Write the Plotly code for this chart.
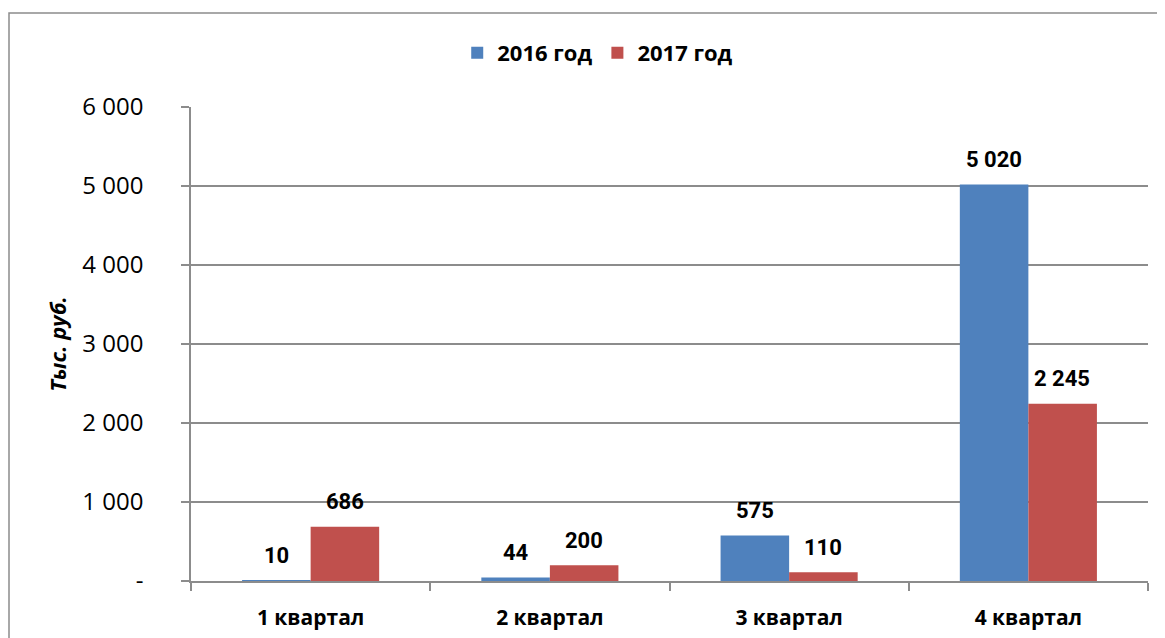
import plotly.graph_objects as go

categories = ["1 квартал", "2 квартал", "3 квартал", "4 квартал"]
series_names = ["2016 год", "2017 год"]
values_2016 = [10, 44, 575, 5020]
values_2017 = [686, 200, 110, 2245]
tick_values = [0, 1000, 2000, 3000, 4000, 5000, 6000]
tick_labels = ["-", "1 000", "2 000", "3 000", "4 000", "5 000", "6 000"]

BLUE = "#4F81BD"
RED = "#C0504D"
GRID = "#8C8C8C"
LABEL_FONT = "Roboto, 'Liberation Sans', sans-serif"
TEXT_FONT = "'Open Sans', 'Liberation Sans', sans-serif"


def fmt(v):
    return f"{v:,}".replace(",", " ")


fig = go.Figure()
fig.add_trace(go.Bar(name=series_names[0], x=categories, y=values_2016,
                     marker=dict(color=BLUE, line=dict(width=0))))
fig.add_trace(go.Bar(name=series_names[1], x=categories, y=values_2017,
                     marker=dict(color=RED, line=dict(width=0))))

# data labels above each bar
bar_half = 34
for vals, shift in ((values_2016, -bar_half), (values_2017, bar_half)):
    for c, v in zip(categories, vals):
        fig.add_annotation(x=c, y=v, text=fmt(v), showarrow=False,
                           xshift=shift, yshift=25, yanchor="middle",
                           font=dict(family=LABEL_FONT, size=22, color="black", weight="bold"))

# page has an 8px body margin, so figure is sized to the remaining viewport
W, H = 1157, 630
L, R, T, B = 183, 17, 99, 57
pw, ph = W - L - R, H - T - B
# outer frame (left and top visible)
fig.add_shape(type="rect", xref="paper", yref="paper",
              x0=(1 - L) / pw, x1=1.2, y0=-0.3, y1=(H - B - 5) / ph,
              line=dict(color="#8C8C8C", width=1.5), fillcolor="rgba(0,0,0,0)", layer="below")

fig.update_layout(
    width=W, height=H,
    margin=dict(l=L, r=R, t=T, b=B, autoexpand=False),
    paper_bgcolor="white", plot_bgcolor="white",
    barmode="group", bargap=0.427, bargroupgap=0,
    font=dict(family=TEXT_FONT, color="black"),
    legend=dict(orientation="h", x=0.425, xanchor="center", y=1.114, yanchor="middle",
                font=dict(family=TEXT_FONT, size=22, color="black", weight="bold"),
                itemwidth=30, tracegroupgap=0),
    showlegend=True,
)
fig.update_xaxes(
    automargin=False,
    showgrid=False, showline=True, linecolor=GRID, linewidth=1.5,
    ticks="outside", tickson="boundaries", ticklen=8, tickcolor=GRID, tickwidth=1.5,
    tickfont=dict(family=TEXT_FONT, size=21, color="black", weight="bold"),
    ticklabelstandoff=17,
    fixedrange=True,
)
fig.update_yaxes(
    automargin=False,
    range=[0, 6000], tickvals=tick_values, ticktext=tick_labels,
    showgrid=True, gridcolor=GRID, gridwidth=1.5,
    showline=True, linecolor=GRID, linewidth=1.5,
    ticks="outside", ticklen=8, tickcolor=GRID, tickwidth=1.5,
    tickfont=dict(family=TEXT_FONT, size=24, color="black"),
    ticklabelstandoff=33,
    zeroline=False,
    title=dict(text="Тыс. руб.", standoff=10,
               font=dict(family=TEXT_FONT, size=22, color="black", weight="bold", style="italic")),
    fixedrange=True,
)

fig.write_html("out.html")
